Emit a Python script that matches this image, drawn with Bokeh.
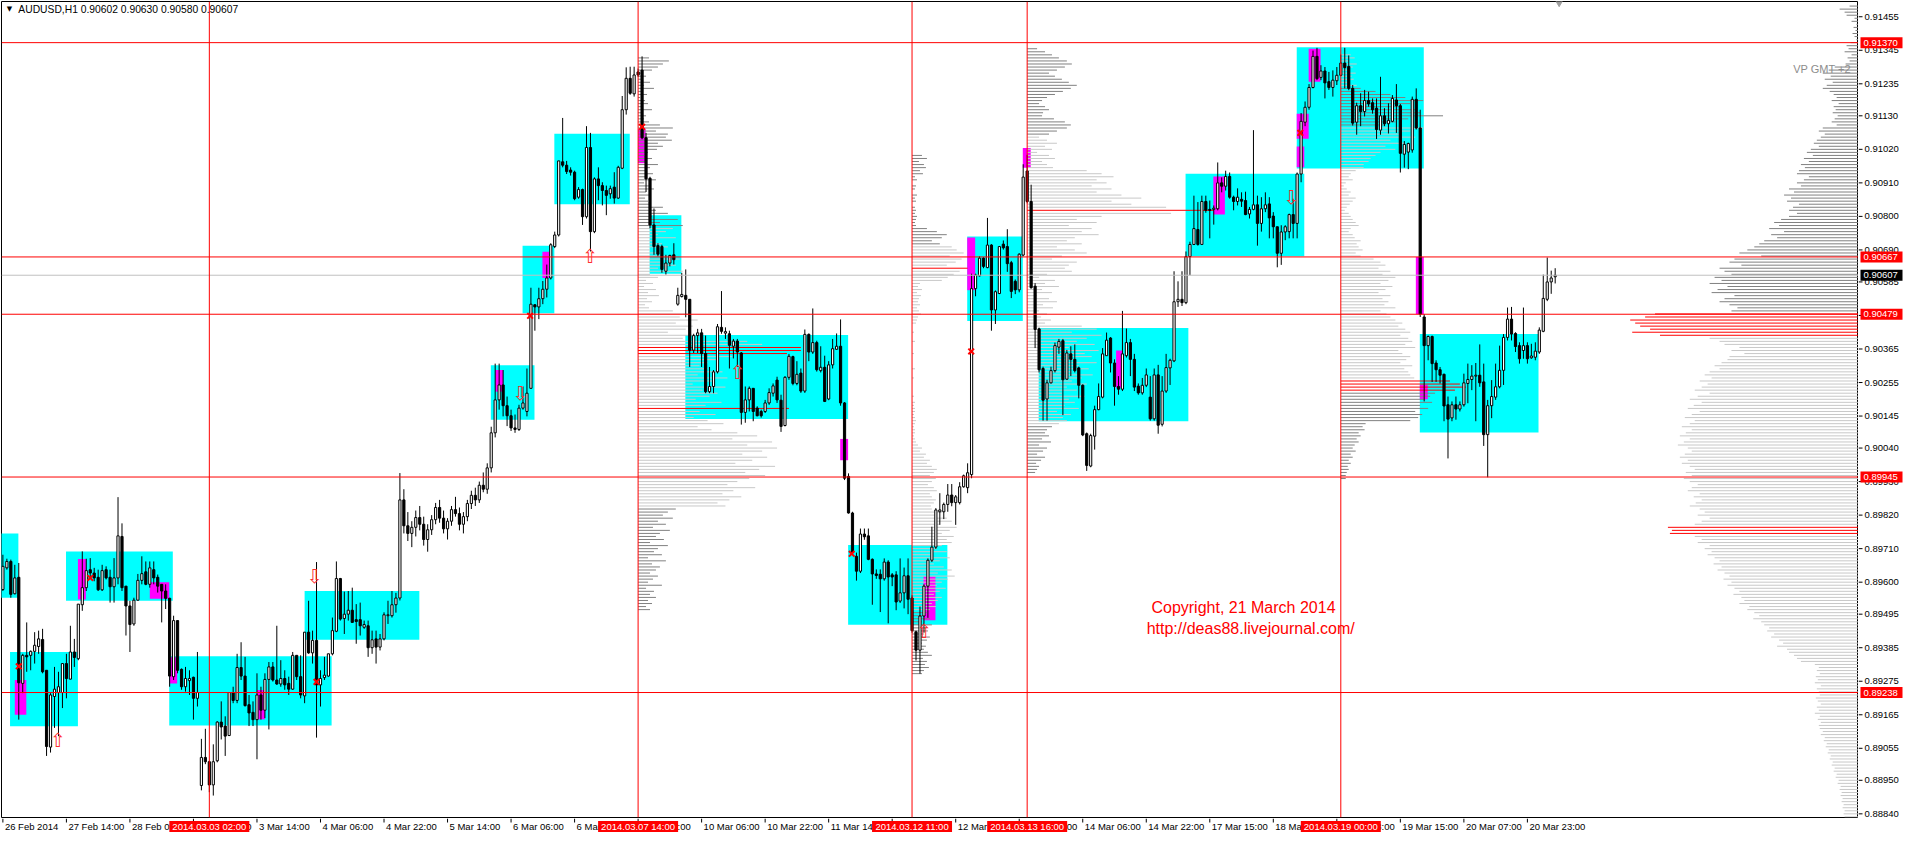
import numpy as np
from bokeh.plotting import figure
from bokeh.layouts import column, row
from bokeh.models import Range1d
from bokeh.core.properties import value
from bokeh.embed import file_html
from bokeh.resources import INLINE

# ---------------- data: hourly AUDUSD bars (price * 1e5) ----------------
OPEN = [89576,89647,89668,89562,89616,89268,89360,89360,89373,89389,89412,89311,89059,89225,89238,89238,89333,89282,89371,89349,
89526,89582,89641,89630,89616,89575,89641,89616,89585,89614,89750,89587,89522,89463,89541,89606,89634,89593,89641,89616,
89593,89571,89547,89290,89474,89314,89257,89277,89288,89219,88933,89025,89011,88935,89014,89141,89128,89097,89238,89212,
89320,89292,89198,89173,89149,89230,89180,89281,89322,89279,89266,89284,89268,89249,89360,89290,89227,89436,89368,89409,
89263,89287,89292,89365,89439,89612,89481,89495,89508,89477,89477,89452,89457,89385,89414,89387,89414,89490,89490,89526,
89548,89870,89785,89760,89780,89812,89790,89740,89772,89805,89845,89810,89775,89800,89838,89825,89790,89815,89858,89885,
89870,89918,89905,89975,90090,90198,90247,90179,90146,90106,90101,90171,90160,90236,90510,90503,90530,90561,90598,90701,
90739,90979,90968,90952,90945,90863,90888,90799,91026,90750,90923,90901,90885,90874,90896,90860,90958,91150,91253,91202,
91274,91280,91058,90925,90772,90704,90701,90620,90647,90674,90512,90537,90541,90528,90361,90409,90418,90350,90225,90242,
90290,90436,90417,90415,90374,90391,90352,90157,90198,90236,90171,90160,90160,90188,90220,90263,90197,90114,90272,90340,
90252,90286,90227,90413,90355,90386,90294,90305,90201,90313,90364,90374,90188,89947,89827,89685,89636,89758,89752,89675,
89627,89626,89611,89666,89624,89624,89538,89565,89621,89548,89437,89377,89489,89587,89672,89715,89831,89831,89855,89886,
89861,89861,89913,89910,89953,90563,90605,90663,90632,90706,90493,90547,90709,90701,90648,90587,90559,90673,90949,90849,
90571,90431,90301,90201,90254,90294,90371,90392,90266,90349,90331,90303,90246,90087,89981,90079,90166,90207,90343,90401,
90319,90242,90233,90343,90386,90331,90243,90221,90246,90207,90136,90280,90118,90227,90303,90326,90520,90528,90517,90668,
90708,90757,90708,90849,90823,90823,90825,90910,90899,90931,90863,90849,90856,90852,90808,90823,90838,90777,90825,90841,
90801,90766,90679,90749,90750,90806,90777,90939,91109,91158,91223,91325,91256,91277,91242,91223,91245,91263,91303,91292,
91220,91109,91163,91144,91180,91173,91155,91083,91130,91104,91112,91182,91163,91004,91011,91018,91184,91090,90470,90376,
90406,90319,90297,90282,90182,90139,90182,90168,90182,90252,90265,90276,90279,90257,90084,90179,90207,90241,90295,90403,
90463,90416,90376,90360,90376,90336,90338,90355,90423,90528,90585,90602]
HIGH = [89690,89677,89674,89657,89663,89365,89468,89376,89436,89441,89447,89311,89236,89322,89306,89333,89365,89457,89414,89528,
89701,89677,89679,89647,89641,89657,89652,89641,89679,89879,89793,89587,89539,89549,89627,89685,89668,89668,89668,89625,
89593,89593,89549,89490,89474,89317,89322,89311,89290,89371,89086,89119,89014,89068,89144,89209,89160,89238,89257,89365,
89403,89355,89230,89209,89301,89257,89301,89338,89338,89457,89344,89311,89290,89371,89360,89360,89436,89539,89441,89666,
89311,89355,89365,89484,89668,89614,89569,89571,89582,89528,89533,89474,89474,89441,89441,89430,89501,89539,89571,89565,
89958,89905,89830,89800,89835,89850,89815,89790,89820,89860,89870,89835,89810,89850,89880,89845,89830,89870,89900,89910,
89930,89960,89990,90110,90317,90317,90296,90209,90166,90150,90182,90242,90301,90566,90512,90566,90588,90642,90712,90750,
90982,91123,90982,90961,90950,90896,90891,91096,91074,90928,90961,90912,90901,90901,90945,90966,91195,91289,91291,91291,
91285,91325,91074,90930,90826,90712,90707,90674,90674,90712,90566,90615,90626,90528,90415,90431,90431,90409,90306,90296,
90447,90555,90436,90425,90398,90398,90355,90242,90242,90236,90177,90166,90198,90236,90252,90274,90215,90276,90349,90343,
90325,90301,90429,90416,90498,90392,90374,90343,90325,90398,90416,90462,90191,89957,89831,89697,89776,89776,89776,89678,
89642,89642,89678,89672,89630,89636,89678,89648,89678,89557,89441,89520,89593,89678,89782,89843,89892,89861,89922,89922,
89886,89928,89953,89990,90612,90612,90669,90666,90795,90709,90557,90703,90721,90758,90654,90593,90679,90971,91002,90904,
90581,90435,90307,90264,90307,90386,90398,90398,90362,90374,90380,90307,90249,90091,90087,90179,90252,90368,90419,90404,
90331,90276,90490,90432,90398,90349,90252,90270,90301,90276,90301,90313,90276,90349,90333,90620,90587,90620,90685,90717,
90868,90847,90868,90868,90852,90836,90977,90928,90950,90944,90868,90892,90879,90881,90831,91083,90868,90863,90879,90863,
90814,90766,90771,90771,90809,90858,90944,91139,91177,91234,91344,91353,91296,91290,91274,91279,91290,91331,91353,91328,
91231,91173,91204,91215,91209,91187,91187,91258,91155,91171,91198,91234,91169,91047,91042,91193,91220,91150,90479,90409,
90409,90328,90306,90284,90209,90193,90209,90193,90284,90317,90312,90319,90380,90317,90198,90263,90317,90376,90414,90501,
90503,90420,90387,90501,90387,90382,90387,90436,90609,90665,90622,90630]
LOW = [89571,89641,89549,89560,89149,89236,89306,89311,89333,89365,89301,89030,89041,89122,89095,89187,89219,89281,89322,89344,
89506,89571,89614,89603,89571,89571,89609,89533,89533,89593,89571,89425,89371,89457,89539,89593,89590,89582,89593,89566,
89468,89512,89257,89279,89301,89247,89241,89230,89149,89192,88917,89003,88911,88900,89009,89084,89030,89095,89203,89203,
89279,89192,89128,89128,89019,89149,89154,89117,89274,89263,89257,89247,89230,89247,89279,89219,89203,89365,89333,89090,
89192,89279,89290,89360,89436,89474,89430,89474,89468,89398,89425,89447,89355,89365,89333,89376,89409,89463,89484,89500,
89540,89760,89735,89715,89750,89770,89720,89700,89755,89790,89795,89760,89740,89785,89815,89770,89760,89800,89840,89850,
89860,89895,89890,89960,90075,90166,90144,90112,90096,90090,90096,90166,90144,90236,90425,90463,90512,90534,90593,90696,
90734,90961,90939,90934,90853,90858,90772,90793,90685,90745,90853,90836,90804,90858,90842,90858,90955,91134,91199,91193,
91258,91053,90880,90761,90674,90669,90615,90609,90636,90642,90507,90534,90469,90306,90352,90352,90306,90220,90220,90220,
90285,90415,90398,90301,90334,90306,90117,90123,90160,90128,90144,90140,90155,90182,90209,90188,90093,90111,90264,90246,
90246,90221,90221,90325,90349,90291,90288,90191,90197,90301,90362,90179,89935,89825,89691,89605,89630,89739,89672,89526,
89611,89502,89605,89465,89587,89508,89532,89514,89495,89434,89343,89300,89434,89483,89666,89709,89788,89807,89831,89849,
89788,89855,89910,89892,89941,90538,90603,90630,90630,90425,90447,90545,90691,90618,90532,90545,90551,90669,90843,90563,
90368,90288,90130,90130,90252,90288,90349,90148,90264,90276,90288,90203,90079,89965,89977,90035,90164,90203,90343,90288,
90179,90215,90227,90337,90276,90227,90215,90215,90240,90130,90130,90087,90111,90221,90247,90322,90503,90506,90512,90607,
90706,90704,90706,90812,90728,90773,90820,90879,90885,90858,90820,90836,90831,90804,90793,90820,90704,90750,90814,90728,
90728,90633,90641,90722,90728,90728,90728,90912,91096,91150,91220,91247,91247,91187,91215,91193,91231,91260,91220,91214,
91098,91068,91096,91128,91160,91137,91054,91068,91096,91072,91109,91074,90944,90960,90955,91009,91085,90470,90193,90328,
90257,90257,90252,90128,90006,90128,90133,90160,90176,90187,90230,90128,90241,90047,89944,90138,90198,90236,90247,90393,
90393,90355,90317,90333,90317,90333,90328,90349,90420,90522,90546,90580]
CLOSE = [89652,89668,89560,89614,89270,89360,89355,89373,89393,89414,89306,89061,89230,89249,89257,89333,89284,89371,89353,89528,
89582,89638,89630,89614,89575,89638,89614,89585,89614,89752,89582,89522,89461,89541,89606,89628,89593,89647,89614,89587,
89571,89547,89292,89474,89311,89257,89284,89284,89219,89238,89025,89011,88935,89011,89141,89125,89095,89238,89212,89320,
89292,89195,89171,89149,89230,89180,89281,89322,89279,89266,89284,89263,89249,89360,89290,89230,89436,89368,89409,89263,
89284,89295,89365,89441,89612,89479,89495,89508,89468,89471,89457,89461,89385,89411,89387,89414,89493,89493,89526,89548,
89870,89785,89760,89780,89812,89790,89740,89772,89805,89845,89810,89775,89800,89838,89825,89790,89815,89858,89885,89870,
89918,89905,89975,90090,90198,90247,90179,90146,90106,90101,90171,90188,90220,90512,90503,90530,90561,90598,90707,90739,
90982,90968,90947,90945,90858,90888,90799,91026,90750,90923,90901,90885,90869,90891,90860,90961,91150,91253,91204,91264,
91264,91058,90923,90772,90701,90676,90626,90647,90672,90658,90541,90544,90528,90361,90409,90418,90350,90225,90242,90290,
90438,90423,90422,90377,90391,90355,90157,90198,90236,90160,90146,90146,90188,90222,90244,90198,90111,90272,90341,90252,
90282,90227,90413,90355,90386,90297,90305,90193,90313,90366,90374,90188,89941,89827,89697,89636,89758,89749,89675,89627,
89622,89611,89666,89617,89617,89535,89565,89621,89544,89441,89377,89489,89587,89672,89715,89837,89837,89855,89886,89861,
89880,89913,89949,89959,90563,90608,90663,90636,90706,90493,90553,90701,90697,90645,90554,90559,90676,90929,90849,90566,
90429,90297,90197,90254,90294,90376,90390,90264,90352,90331,90294,90246,90083,89983,90081,90166,90209,90349,90394,90319,
90242,90233,90349,90386,90331,90240,90221,90246,90280,90136,90280,90115,90227,90304,90328,90520,90528,90517,90668,90708,
90760,90708,90849,90820,90820,90827,90910,90899,90931,90863,90849,90863,90850,90806,90823,90838,90777,90825,90838,90795,
90766,90679,90749,90766,90806,90777,90939,91112,91158,91223,91325,91252,91277,91238,91223,91247,91263,91303,91288,91220,
91106,91163,91144,91180,91169,91150,91085,91130,91104,91115,91187,91163,91007,91036,91039,91184,91090,90479,90376,90406,
90317,90297,90279,90178,90135,90182,90168,90182,90254,90265,90276,90279,90254,90084,90179,90209,90241,90295,90403,90463,
90414,90373,90333,90376,90333,90342,90358,90427,90531,90585,90598,90607]

# time axis: bar index of each labelled hour
TIME_TICKS = [0,16,32,48,64,80,96,112,128,144,160,176,192,208,224,240,256,272,288,304,320,336,352,368,384]
TIME_LABELS = ["26 Feb 2014","27 Feb 14:00","28 Feb 06:00","28 Feb 22:00","3 Mar 14:00","4 Mar 06:00","4 Mar 22:00",
               "5 Mar 14:00","6 Mar 06:00","6 Mar 22:00","7 Mar 14:00","10 Mar 06:00","10 Mar 22:00","11 Mar 14:00",
               "12 Mar 06:00","12 Mar 22:00","13 Mar 14:00","14 Mar 06:00","14 Mar 22:00","17 Mar 15:00","18 Mar 07:00",
               "18 Mar 23:00","19 Mar 15:00","20 Mar 07:00","20 Mar 23:00"]
PRICE_TICKS = [0.91455,0.91345,0.91235,0.91130,0.91020,0.90910,0.90800,0.90690,0.90585,0.90475,0.90365,0.90255,0.90145,
               0.90040,0.89930,0.89820,0.89710,0.89600,0.89495,0.89385,0.89275,0.89165,0.89055,0.88950,0.88840]

# horizontal levels and vertical time lines
LEVELS = [0.91370, 0.90667, 0.90479, 0.89945, 0.89238]
LAST_PRICE = 0.90607
VLINE_BARS = [52, 160, 229, 258, 337]
VLINE_TEXT = ["2014.03.03 02:00", "2014.03.07 14:00", "2014.03.12 11:00", "2014.03.13 16:00", "2014.03.19 00:00"]
SHIFT_BAR = 392   # chart-shift marker position

# range boxes (bar index from/to, price top/bottom *1e5)
CYAN_L = [-0.5, 1.8, 15.9, 41.9, 76, 122.9, 130.9, 138.9, 162.9, 171.9, 212.9, 242.9, 260.9, 297.9, 325.9, 356.9]
CYAN_R = [3.9, 18.9, 42.8, 82.8, 104.9, 133.9, 138.9, 157.9, 170.9, 212.9, 237.9, 256.9, 298.6, 327.8, 357.9, 386.8]
CYAN_T = [89760, 89371, 89701, 89357, 89571, 90312, 90704, 91071, 90804, 90411, 89722, 90734, 90434, 90940, 91355, 90414]
CYAN_B = [89549, 89127, 89539, 89130, 89411, 90133, 90482, 90840, 90612, 90135, 89460, 90457, 90128, 90669, 90957, 90091]
MAG_L = [3, 18.9, 37, 42, 64, 124, 135.9, 160, 210.9, 242.9, 256.9, 231.9, 280.4, 304.9, 325.9, 325.9, 328.9, 355.9, 356.9]
MAG_R = [5.9, 20.9, 41.9, 43.9, 66, 126, 137.6, 161.9, 212.9, 244.9, 258.9, 234.9, 281.9, 307.8, 328.9, 327.8, 331.9, 357.9, 358.9]
MAG_T = [89279, 89676, 89600, 89354, 89246, 90296, 90684, 91087, 90070, 90731, 91024, 89618, 90360, 90931, 91137, 91029, 91350, 90667, 90247]
MAG_B = [89165, 89543, 89546, 89268, 89150, 90225, 90598, 90974, 90000, 90558, 90960, 89475, 90238, 90806, 91055, 90961, 91242, 90479, 90200]

# signal marks
CROSS_BAR = [4, 22, 79, 132.8, 161, 213.8, 243.9, 326.8]
CROSS_PRICE = [89324, 89614, 89273, 90474, 91094, 89693, 90357, 91074]
UP_BAR = [13.8, 147.9, 185, 232]
UP_PRICE = [89082, 90669, 90290, 89439]
DOWN_BAR = [78.5, 130.3, 324.5]
DOWN_PRICE = [89619, 90222, 90864]

# volume profiles: one value per pip, from the top pip downward
P1_START, P1_TOP = 160, 9132
P1_VOL = [11,31,25,20,14, 5,8,3,12,6,16,4,9,2,7,10,5,14,3,8,6,11, 22,35,18,30,28,34,20,25,19,
          10,6,14,8,20,12,7,15,9,18,6,11,16,8,13,7,10,12, 25,18,30,14,40,22,45,35,28,20,38,15,24,30,12,18,
          30,42,25,38,20,45, 12,20,8,15,6,18,10,21,9,14,7,11, 35,50,42,60,38,55,48,30,58,45,
          110,125,164,164,150, 95,80,70,62, 70,85,60,90,75,55,88,65,80,72,58,84,68,152,62,78,56,70,86,60,74,
          100,120,95,135,110,140,125,105,130,115,98,138,122,108,128,112,100,90,118,96,85,104,92,80,88,
          38,30,25,35,20,28,15,32,22,18,26,12,30,20,16,24,10,28,14,22,18,12,20,15,10,24,8,16,12,18,10,14,8,12]
P1_RED = [9037, 9036, 9035, 9017]
P1_DARK = [(9132, 9077), (8984, 8951)]

P2_START, P2_TOP = 229, 9100
P2_VOL = [10,15,7,12,14,8,11, 3,5,0,4,3,0,5,3,4,0,3, 4,3,5,4,3,4, 15,25,35,30,20,28,
          40,45,52,38,50,44,35,56,48,42,36,30, 8,6,10,5,9,7,6,8,5,7,9,6,5,4,
          0,0,2,0,0,3,0,0,0,2,0,0,0,0,3,0,0,2,0,0,0,0,0,2,0, 3,2,3,3,2,3,4,3,2,3,3,2,3,4,
          6,10,8,14,12,18,15,20,25,22,18,24,20,16,22,25,18,20,24,22,19, 20,30,25,35,40,28,45,38,30,42,35,40,
          30,25,35,20,38,28,22,32,40,26,43,36,30,25,34,28,22,30,26,20,24,18,
          15,12,18,10,20,14,16,12,18,15,10,14,12,16,20,11,15,13,17,12,10]
P2_RED = [9063]
P2_DARK = [(9100, 9071), (8950, 8930)]

P3_START, P3_TOP = 258, 9135
P3_VOL = [10,18,25,32,40,45,38,30,22,28,35,42,50,44,36,28,20,15,12,18,22,16,
          15,27,38,44,40,30,22, 12,20,30,18,25,10,22,28,15,20,26, 60,75,87,70,80,65,85, 70,95,115,85,105,140,
          188, 145,75,50,70,42,65,55,72,48, 40,55,30,48,60,35,25,50,42,38,45,
          20,12,28,18,32,15,25,10,22,30,16,26,12,20,14,24,18, 55,70,45,75,60,50,68,42,72,58,65,48,70,52,62,45,66,
          55,45,60,40,50,35,58,42,48,38,52,30,44,36,40,32, 25,20,18,22,15,24,12,20,16,10,18,14,9,12,10,8]
P3_RED = [9082]
P3_DARK = [(9135, 9107), (9011, 8996)]

P4_START, P4_TOP = 337, 9133
P4_VOL = [10,14,8,16,12,9,15,11,13,8,16, 20,35,50,65,83,70,60,75,80,103,68,55,45,
          83,70,60,75,50,65,45,55,40,35,30,28,23,
          23,15,10,8,12,5,3,6,10,8,15,12,9,6,4,8,10,12,15,18,10,8,12,14,20,16,18,22,15,20,
          33,40,45,38,50,42,55,48,40,52,45,38,50,42,48,44,55,40,46,
          50,55,62,58,65,70,60,68,72,65,75,58,62,70,66,60,72,64,68,70,74, 110,120,126,115,
          95,90,85,92,80,88,75,82,78,70, 25,22,24,18,20,16,18,14,12,15,10,12,8,10,7,8,6,5,5]
P4_RED = [9026, 9025, 9024, 9023]
P4_DARK = [(9122, 9110), (9022, 8994)]

P5_TOP = 9149   # whole-period profile, drawn from the right edge
P5_VOL = [9,19,14,12, 4,7,2,5,3,6,4,2, 8,12,10,14,7,11,9,13, 24,30,36,28,34,26,32,36,29,25,
          22,27,20,25,23,26,21,24,27,22, 36,40,34,38,42,45,40,48,52,46,55,50,58,54,60,62,
          50,55,62,58,70,65,75,68,72,60,66,70, 62,70,78,85,80,90,75,88,82,95,100,
          105,112,120,98,125,130,118,140,135,128,145,138,150,132,142,148,125,135,140,130,122,128,
          205,215,230,225,220,210,228,200, 150,140,135,120,128,115,130,
          132,138,145,140,150,155,148,160,152,158,165,150,162,170,158,166,172,160,168,175,
          165,170,178,168,174,180,170,176,182,172,168,175,180,172,178,170,165,174,168,176,
          170,162,168,172,160,166,158,164,170,160,155,162,150,158,165,
          192,188,190,
          165,158,162,150,155,148,152,145,140,146,138,142,135,130,136,128,132,125,120,126,
          118,115,120,110,112,105,100,106,98,95,90,92,85,88,80,76,82,72,70,65,62,58,
          44,40,42,39,43,41,44,38,42,40,39,43,41,38,42,40,44,39,41,38,40,
          39,36,38,34,35,32,33,30,31,28,29,26,27,24,25,22,23,20,21,18,19,17,18,16,17,15,16,14,15,14]
P5_RED = [9048, 9047, 9046, 9045, 9044, 9043, 9042, 9041, 8978, 8977, 8976]
P5_DARK = [(9149, 9049)]

# ---------------- figures ----------------
X0, X1 = -0.35, 467.4
Y0, Y1 = 0.88828, 0.91505
FONT = "Liberation Sans"
MAIN_W, MAIN_H = 1858, 818
AX_W, AX_H = 46, 16


def bare(fig):
    fig.xgrid.visible = False
    fig.ygrid.visible = False
    fig.background_fill_color = "white"
    fig.border_fill_color = "white"
    return fig


p = bare(figure(width=MAIN_W, height=MAIN_H, x_range=Range1d(X0, X1), y_range=Range1d(Y0, Y1),
                output_backend="svg", toolbar_location=None, x_axis_location=None, y_axis_location=None,
                min_border_left=1, min_border_top=1, min_border_bottom=1, min_border_right=0))
p.outline_line_color = "black"
p.outline_line_width = 1

# boxes
p.quad(left=CYAN_L, right=CYAN_R, top=np.array(CYAN_T) / 1e5, bottom=np.array(CYAN_B) / 1e5,
       fill_color="#00FFFF", line_color=None)
p.quad(left=MAG_L, right=MAG_R, top=np.array(MAG_T) / 1e5, bottom=np.array(MAG_B) / 1e5,
       fill_color="#FF00FF", line_color=None)

# volume profiles
BAR_PER_UNIT = 0.25


def profile(start, top, vols, reds, darks, from_right=False):
    xs0, xs1, ys, cols = [], [], [], []
    for k, v in enumerate(vols):
        if v <= 0:
            continue
        pip = top - k
        if pip in reds:
            col = "#FF0000"
        elif any(lo <= pip <= hi for hi, lo in darks):
            col = "#808080"
        else:
            col = "#C8C8C8"
        if from_right:
            xs0.append(X1); xs1.append(X1 - v * BAR_PER_UNIT)
        else:
            xs0.append(start); xs1.append(start + v * BAR_PER_UNIT)
        ys.append(pip / 1e4); cols.append(col)
    p.segment(x0=xs0, y0=ys, x1=xs1, y1=ys, line_color=cols, line_width=1)


profile(P1_START, P1_TOP, P1_VOL, P1_RED, P1_DARK)
profile(P2_START, P2_TOP, P2_VOL, P2_RED, P2_DARK)
profile(P3_START, P3_TOP, P3_VOL, P3_RED, P3_DARK)
profile(P4_START, P4_TOP, P4_VOL, P4_RED, P4_DARK)
profile(None, P5_TOP, P5_VOL, P5_RED, P5_DARK, from_right=True)

# candles
o = np.array(OPEN) / 1e5
h = np.array(HIGH) / 1e5
l = np.array(LOW) / 1e5
c = np.array(CLOSE) / 1e5
idx = np.arange(len(o))
up = c >= o
p.segment(x0=idx, y0=h, x1=idx, y1=l, line_color="black", line_width=1)
p.vbar(x=idx[up], width=0.55, top=c[up], bottom=o[up], fill_color="white", line_color="black", line_width=1)
p.vbar(x=idx[~up], width=0.55, top=o[~up], bottom=c[~up], fill_color="black", line_color="black", line_width=1)

# horizontal / vertical lines
p.segment(x0=[X0] * len(LEVELS), y0=LEVELS, x1=[X1] * len(LEVELS), y1=LEVELS, line_color="#FF0000", line_width=1)
p.segment(x0=[X0], y0=[LAST_PRICE], x1=[X1], y1=[LAST_PRICE], line_color="#C0C0C0", line_width=1)
p.segment(x0=VLINE_BARS, y0=[Y0] * len(VLINE_BARS), x1=VLINE_BARS, y1=[Y1] * len(VLINE_BARS),
          line_color="#FF0000", line_width=1)

# signal marks
p.scatter(x=CROSS_BAR, y=np.array(CROSS_PRICE) / 1e5, marker="x", size=8, line_width=2, line_color="#FF0000")
p.text(x=UP_BAR, y=np.array(UP_PRICE) / 1e5, text=["\u21e7"] * len(UP_BAR), text_color="#FF3030",
       text_font=value("DejaVu Sans"), text_font_size="19px", text_align="center", text_baseline="middle")
p.text(x=DOWN_BAR, y=np.array(DOWN_PRICE) / 1e5, text=["\u21e9"] * len(DOWN_BAR), text_color="#FF3030",
       text_font=value("DejaVu Sans"), text_font_size="19px", text_align="center", text_baseline="middle")
p.scatter(x=[SHIFT_BAR], y=[Y1], marker="inverted_triangle", size=9, fill_color="#A0A0A0", line_color="#A0A0A0")

# texts in the chart
p.text(x=[1.65], y=[0.91479], text=["\u25bc"], text_font=value("DejaVu Sans"), text_font_size="7px",
       text_color="black", text_align="center", text_baseline="middle")
p.text(x=[3.9], y=[0.91479], text=["AUDUSD,H1  0.90602 0.90630 0.90580 0.90607"], text_font=value(FONT),
       text_font_size="10.3px", text_color="black", text_align="left", text_baseline="middle")
p.text(x=[465.5], y=[0.91284], text=["VP GMT +2"], text_font=value(FONT), text_font_size="11px",
       text_color="#8C8C8C", text_align="right", text_baseline="middle")
p.text(x=[289.3, 288.1], y=[0.89517, 0.89447],
       text=["Copyright, 21 March 2014", "http://deas88.livejournal.com/"], text_font=value(FONT),
       text_font_size="16px", text_color="#FF0000", text_align="left", text_baseline="middle")

# ---- price scale (right) ----
r = bare(figure(width=AX_W, height=MAIN_H, x_range=Range1d(0, AX_W), y_range=p.y_range,
                output_backend="svg", toolbar_location=None, x_axis_location=None, y_axis_location=None,
                min_border_left=0, min_border_top=1, min_border_bottom=1, min_border_right=0))
r.outline_line_color = None
r.segment(x0=[0] * len(PRICE_TICKS), y0=PRICE_TICKS, x1=[4] * len(PRICE_TICKS), y1=PRICE_TICKS,
          line_color="black", line_width=1)
r.text(x=[6] * len(PRICE_TICKS), y=PRICE_TICKS, text=["%.5f" % t for t in PRICE_TICKS], text_font=value(FONT),
       text_font_size="9.5px", text_color="black", text_align="left", text_baseline="middle")
r.rect(x=[23] * len(LEVELS), y=LEVELS, width=42, height=11, height_units="screen",
       fill_color="#FF0000", line_color=None)
r.rect(x=[23], y=[LAST_PRICE], width=42, height=11, height_units="screen", fill_color="black", line_color=None)
r.text(x=[5] * (len(LEVELS) + 1), y=LEVELS + [LAST_PRICE], text=["%.5f" % t for t in LEVELS + [LAST_PRICE]],
       text_font=value(FONT), text_font_size="9.5px", text_color="white", text_align="left", text_baseline="middle")

# ---- time scale (bottom) ----
b = bare(figure(width=MAIN_W, height=AX_H, x_range=p.x_range, y_range=Range1d(0, AX_H),
                output_backend="svg", toolbar_location=None, x_axis_location=None, y_axis_location=None,
                min_border_left=1, min_border_top=0, min_border_bottom=0, min_border_right=0))
b.outline_line_color = None
b.segment(x0=TIME_TICKS, y0=[AX_H] * len(TIME_TICKS), x1=TIME_TICKS, y1=[AX_H - 4] * len(TIME_TICKS),
          line_color="black", line_width=1)
b.text(x=TIME_TICKS, y=[AX_H - 2.5] * len(TIME_TICKS), text=TIME_LABELS, x_offset=2, text_font=value(FONT),
       text_font_size="9.5px", text_color="black", text_align="left", text_baseline="top")
b.rect(x=VLINE_BARS, y=[AX_H / 2] * len(VLINE_BARS), width=80, height=11, width_units="screen",
       height_units="screen", fill_color="#FF0000", line_color=None)
b.text(x=VLINE_BARS, y=[AX_H / 2] * len(VLINE_BARS), text=VLINE_TEXT, text_font=value(FONT),
       text_font_size="9.5px", text_color="white", text_align="center", text_baseline="middle")

layout = column(row(p, r, spacing=0), b, spacing=0)
open("out.html", "w").write(file_html(layout, INLINE))
